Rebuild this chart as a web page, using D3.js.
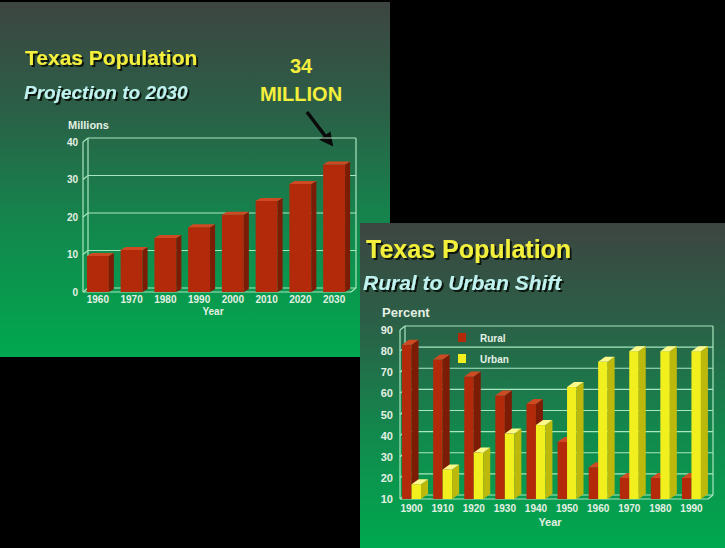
<!DOCTYPE html>
<html>
<head>
<meta charset="utf-8">
<script src="https://cdn.jsdelivr.net/npm/d3@7"></script>
<style>
  html, body { margin: 0; padding: 0; background: #000; }
  svg { display: block; }
  text { font-family: "Liberation Sans", Arial, sans-serif; }
</style>
</head>
<body>
<div id="chart"></div>
<script>
// --- data ---
var projYears = ["1960", "1970", "1980", "1990", "2000", "2010", "2020", "2030"];
var projMillions = [9.6, 11.2, 14.4, 17.3, 20.6, 24.3, 28.8, 34.0];
var projTicks = [0, 10, 20, 30, 40];

var shiftYears = ["1900", "1910", "1920", "1930", "1940", "1950", "1960", "1970", "1980", "1990"];
var ruralPct = [83, 76, 68, 59, 55, 37, 25, 20, 20, 20];
var urbanPct = [17, 24, 32, 41, 45, 63, 75, 80, 80, 80];
var shiftTicks = [10, 20, 30, 40, 50, 60, 70, 80, 90];
var shiftSeries = ["Rural", "Urban"];

var width = 725, height = 548;

var svg = d3.select("#chart").append("svg")
  .attr("width", width)
  .attr("height", height);

svg.append("rect").attr("width", width).attr("height", height).attr("fill", "#000");

var defs = svg.append("defs");
var grad = defs.append("linearGradient")
  .attr("id", "slideGrad")
  .attr("x1", 0).attr("y1", 0).attr("x2", 0).attr("y2", 1);
grad.append("stop").attr("offset", "0%").attr("stop-color", "#3d4541");
grad.append("stop").attr("offset", "30%").attr("stop-color", "#2b5f47");
grad.append("stop").attr("offset", "65%").attr("stop-color", "#12894d");
grad.append("stop").attr("offset", "100%").attr("stop-color", "#00a94f");

// drop shadow for the titles
defs.append("filter")
  .attr("id", "titleShadow")
  .attr("x", "-5%").attr("y", "-20%").attr("width", "115%").attr("height", "150%")
  .append("feDropShadow")
  .attr("dx", 2).attr("dy", 2).attr("stdDeviation", 0.6)
  .attr("flood-color", "#111611").attr("flood-opacity", 1);

var gridColor = "#a9e6bf";
var tickColor = "#e4f0e4";

function titleText(g, x, y, str, size, color, italic) {
  g.append("text")
    .attr("x", x)
    .attr("y", y)
    .attr("filter", "url(#titleShadow)")
    .text(str)
    .style("font-size", size + "px")
    .style("font-weight", "bold")
    .style("font-style", italic ? "italic" : "normal")
    .style("fill", color);
}

// one 3d bar: front face, side face, top face
function bar3d(g, x, w, yTop, yBase, dx, dy, cols) {
  g.append("rect")
    .attr("x", x).attr("y", yTop)
    .attr("width", w).attr("height", yBase - yTop)
    .attr("fill", cols[0]);
  g.append("path")
    .attr("d", "M" + (x + w) + "," + yTop + "L" + (x + w + dx) + "," + (yTop - dy) +
      "L" + (x + w + dx) + "," + (yBase - dy) + "L" + (x + w) + "," + yBase + "Z")
    .attr("fill", cols[1]);
  g.append("path")
    .attr("d", "M" + x + "," + yTop + "L" + (x + dx) + "," + (yTop - dy) +
      "L" + (x + w + dx) + "," + (yTop - dy) + "L" + (x + w) + "," + yTop + "Z")
    .attr("fill", cols[2]);
}

// 3d frame: front axis line, back-wall gridlines
function frame3d(g, yScale, ticks, xl, xr, dx, dy) {
  var y0 = yScale(ticks[0]), y1 = yScale(ticks[ticks.length - 1]);
  var lines = g.append("g")
    .style("stroke", gridColor).style("stroke-width", 1.2).style("fill", "none");
  lines.append("line").attr("x1", xl).attr("x2", xl).attr("y1", y0).attr("y2", y1);
  lines.append("line").attr("x1", xl + dx).attr("x2", xl + dx).attr("y1", y0 - dy).attr("y2", y1 - dy);
  lines.append("line").attr("x1", xr).attr("x2", xr).attr("y1", y0 - dy).attr("y2", y1 - dy);
  lines.append("line").attr("x1", xl).attr("x2", xr - dx).attr("y1", y0).attr("y2", y0);
  lines.append("line").attr("x1", xr - dx).attr("x2", xr).attr("y1", y0).attr("y2", y0 - dy);
  ticks.forEach(function(t) {
    lines.append("line").attr("x1", xl).attr("x2", xl + dx)
      .attr("y1", yScale(t)).attr("y2", yScale(t) - dy);
    lines.append("line").attr("x1", xl + dx).attr("x2", xr)
      .attr("y1", yScale(t) - dy).attr("y2", yScale(t) - dy);
  });
}

function styleAxis(g, size) {
  g.select(".domain").remove();
  g.selectAll("text")
    .style("fill", tickColor)
    .style("font-size", size + "px")
    .style("font-weight", "bold")
    .style("font-family", "'Liberation Sans', Arial, sans-serif");
}

// ---------------- slide 1: projection ----------------
var s1 = svg.append("g");
s1.append("rect").attr("x", 0).attr("y", 2).attr("width", 390).attr("height", 355)
  .attr("fill", "url(#slideGrad)");

titleText(s1, 25, 65, "Texas Population", 21, "#f3ef3c", false);
titleText(s1, 24, 99, "Projection to 2030", 19, "#bff2ef", true);

s1.append("text").attr("x", 301).attr("y", 73).attr("text-anchor", "middle")
  .text("34").style("font-size", "20px").style("font-weight", "bold").style("fill", "#f3ef3c");
s1.append("text").attr("x", 301).attr("y", 101).attr("text-anchor", "middle")
  .text("MILLION").style("font-size", "20px").style("font-weight", "bold").style("fill", "#f3ef3c");

defs.append("marker")
  .attr("id", "arrowHead")
  .attr("viewBox", "0 0 10 10")
  .attr("refX", 5).attr("refY", 5)
  .attr("markerWidth", 4).attr("markerHeight", 4)
  .attr("orient", "auto")
  .append("path").attr("d", "M0,0L10,5L0,10Z").attr("fill", "#0a0a0a");
s1.append("line")
  .attr("x1", 307).attr("y1", 112).attr("x2", 329).attr("y2", 141)
  .style("stroke", "#0a0a0a").style("stroke-width", 3.5)
  .attr("marker-end", "url(#arrowHead)");

var x1 = d3.scaleBand().domain(projYears).range([81, 351]).paddingInner(0.35).paddingOuter(0.175);
var y1 = d3.scaleLinear().domain([0, 40]).range([292, 142]);

frame3d(s1, y1, projTicks, 83, 356, 5, 4);

s1.append("text").attr("x", 68).attr("y", 129).text("Millions")
  .style("font-size", "11px").style("font-weight", "bold").style("fill", tickColor);

projYears.forEach(function(d, i) {
  bar3d(s1, x1(d), x1.bandwidth(), y1(projMillions[i]), y1(0), 5, 3,
    ["#b32a0a", "#7c1b06", "#cf4a22"]);
});

s1.append("g")
  .attr("transform", "translate(78,0)")
  .call(d3.axisLeft(y1).tickValues(projTicks).tickSize(0).tickPadding(0))
  .call(styleAxis, 10);

s1.append("g")
  .attr("transform", "translate(0,292)")
  .call(d3.axisBottom(x1).tickSize(0).tickPadding(4))
  .call(styleAxis, 10);

s1.append("text").attr("x", 213).attr("y", 315).attr("text-anchor", "middle").text("Year")
  .style("font-size", "10px").style("font-weight", "bold").style("fill", tickColor);

// ---------------- slide 2: rural / urban ----------------
var s2 = svg.append("g");
s2.append("rect").attr("x", 360).attr("y", 223).attr("width", 365).attr("height", 325)
  .attr("fill", "url(#slideGrad)");

titleText(s2, 366, 258, "Texas Population", 25, "#f3ef3c", false);
titleText(s2, 363, 290, "Rural to Urban Shift", 21, "#bff2ef", true);

s2.append("text").attr("x", 382).attr("y", 317).text("Percent")
  .style("font-size", "13px").style("font-weight", "bold").style("fill", tickColor);

var x2 = d3.scaleBand().domain(shiftYears).range([396, 707]).paddingInner(0.39).paddingOuter(0.195);
var y2 = d3.scaleLinear().domain([10, 90]).range([499, 330]);
var sub2 = d3.scaleBand().domain(shiftSeries).range([0, x2.bandwidth()]);
var shiftColors = {
  Rural: ["#b32a0a", "#7c1b06", "#cf4a22"],
  Urban: ["#f2ef1e", "#bdb80c", "#fbf98a"]
};

frame3d(s2, y2, shiftTicks, 400, 713, 5, 4);

shiftYears.forEach(function(d, i) {
  var vals = [ruralPct[i], urbanPct[i]];
  shiftSeries.forEach(function(s, j) {
    bar3d(s2, x2(d) + sub2(s), sub2.bandwidth(), y2(vals[j]), y2(10), 7, 5, shiftColors[s]);
  });
});

// legend
var legend = s2.append("g");
shiftSeries.forEach(function(s, j) {
  legend.append("rect")
    .attr("x", 458).attr("y", 333 + j * 21)
    .attr("width", 8).attr("height", 9)
    .attr("fill", shiftColors[s][0]);
  legend.append("text")
    .attr("x", 480).attr("y", 342 + j * 21)
    .text(s)
    .style("font-size", "10px").style("font-weight", "bold").style("fill", tickColor);
});

s2.append("g")
  .attr("transform", "translate(393,0)")
  .call(d3.axisLeft(y2).tickValues(shiftTicks).tickSize(0).tickPadding(0))
  .call(styleAxis, 11);

s2.append("g")
  .attr("transform", "translate(0,499)")
  .call(d3.axisBottom(x2).tickSize(0).tickPadding(6))
  .call(styleAxis, 10);

s2.append("text").attr("x", 550).attr("y", 526).attr("text-anchor", "middle").text("Year")
  .style("font-size", "11px").style("font-weight", "bold").style("fill", tickColor);
</script>
</body>
</html>
